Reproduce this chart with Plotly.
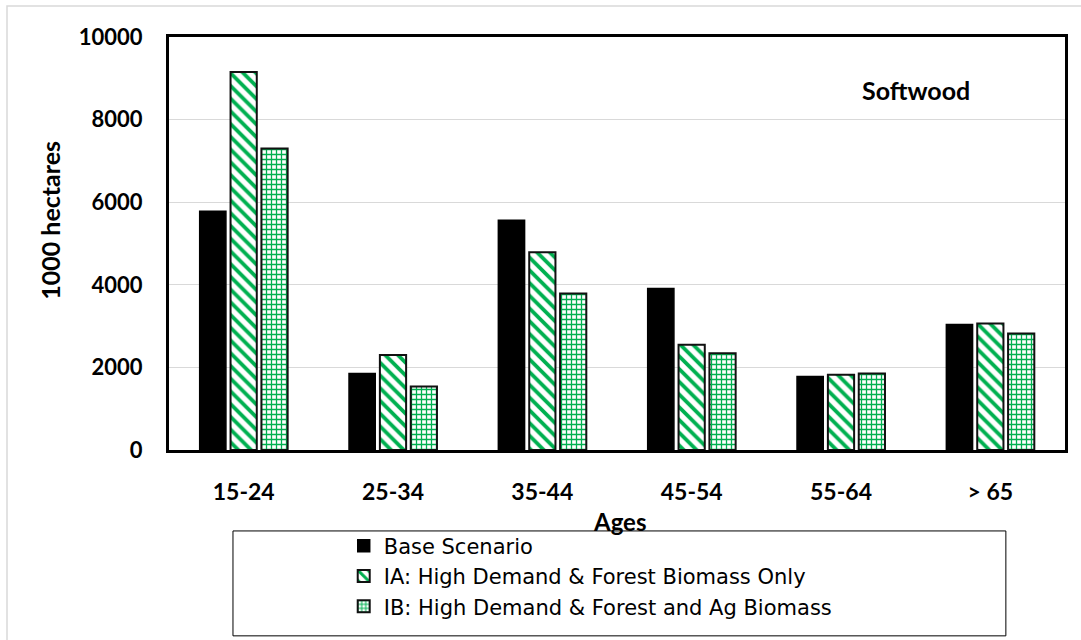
import plotly.graph_objects as go

categories = ["15-24", "25-34", "35-44", "45-54", "55-64", "> 65"]
base_scenario = [5780, 1850, 5560, 3910, 1780, 3040]
ia_forest_only = [9150, 2300, 4790, 2550, 1820, 3060]
ib_forest_ag = [7300, 1540, 3790, 2340, 1850, 2820]
series_names = [
    "Base Scenario",
    "IA: High Demand & Forest Biomass Only",
    "IB: High Demand & Forest and Ag Biomass",
]
y_ticks = [0, 2000, 4000, 6000, 8000, 10000]
y_tick_text = ["0", "2000", "4000", "6000", "8000", "10000"]

GREEN = "#00b050"
FONT = "Lato"

fig = go.Figure()
fig.add_trace(go.Bar(
    x=categories, y=base_scenario, name=series_names[0], legendgroup="a",
    marker=dict(color="black", line=dict(color="black", width=1.5)),
))
fig.add_trace(go.Bar(
    x=categories, y=ia_forest_only, name=series_names[1], legendgroup="b",
    marker=dict(color="white", line=dict(color="#111111", width=2),
                pattern=dict(shape="\\", fgcolor=GREEN, bgcolor="white",
                             fgopacity=1, size=9, solidity=0.42)),
))
fig.add_trace(go.Bar(
    x=categories, y=ib_forest_ag, name=series_names[2], legendgroup="c",
    marker=dict(color="white", line=dict(color="#111111", width=2),
                pattern=dict(shape="+", fgcolor=GREEN, bgcolor="white",
                             fgopacity=1, size=5, solidity=0.45)),
))

fig.update_layout(
    width=1081, height=640,
    margin=dict(l=169, r=16, t=37, b=190, autoexpand=False),
    paper_bgcolor="white", plot_bgcolor="white",
    barmode="group", bargap=0.38, bargroupgap=0.15,
    font=dict(family=FONT, color="black"),
    showlegend=True,
    legend=dict(
        x=0.195, y=-0.183, xanchor="left", yanchor="top",
        font=dict(family="DejaVu Sans", size=21, color="black"),
        bgcolor="rgba(0,0,0,0)", borderwidth=0,
        traceorder="grouped", tracegroupgap=0,
        itemwidth=30,
    ),
    xaxis=dict(
        showline=True, linecolor="black", linewidth=3, mirror=True,
        showgrid=False, ticks="", ticklabelstandoff=19,
        tickfont=dict(family=FONT, size=23, color="black", weight="bold"),
    ),
    yaxis=dict(
        range=[0, 10000], tickvals=y_ticks, ticktext=y_tick_text,
        showline=True, linecolor="black", linewidth=3, mirror=True,
        showgrid=True, gridcolor="#d9d9d9", gridwidth=1,
        zeroline=False, ticks="", ticklabelstandoff=19,
        tickfont=dict(family=FONT, size=22, color="black", weight="bold"),
    ),
    shapes=[
        dict(type="rect", xref="paper", yref="paper",
             x0=-0.1808, x1=1.2, y0=-0.7, y1=1.075,
             line=dict(color="#d9d9d9", width=1.5), fillcolor="rgba(0,0,0,0)",
             layer="below"),
        dict(type="rect", xref="paper", yref="paper",
             x0=0.0714, x1=0.934, y0=-0.450, y1=-0.196,
             line=dict(color="black", width=1), fillcolor="rgba(0,0,0,0)"),
    ],
    annotations=[
        dict(text="<b>Ages</b>", xref="paper", yref="paper",
             x=0.503, y=-0.172, xanchor="center", yanchor="middle",
             showarrow=False, font=dict(family=FONT, size=24, color="black")),
        dict(text="<b>1000 hectares</b>", xref="paper", yref="paper",
             x=-0.133, y=0.557, xanchor="center", yanchor="middle",
             textangle=-90, showarrow=False,
             font=dict(family=FONT, size=25, color="black")),
        dict(text="<b>Softwood</b>", xref="paper", yref="paper",
             x=0.834, y=0.872, xanchor="center", yanchor="middle",
             showarrow=False, font=dict(family=FONT, size=25, color="black")),
    ],
)

fig.write_html("out.html")
